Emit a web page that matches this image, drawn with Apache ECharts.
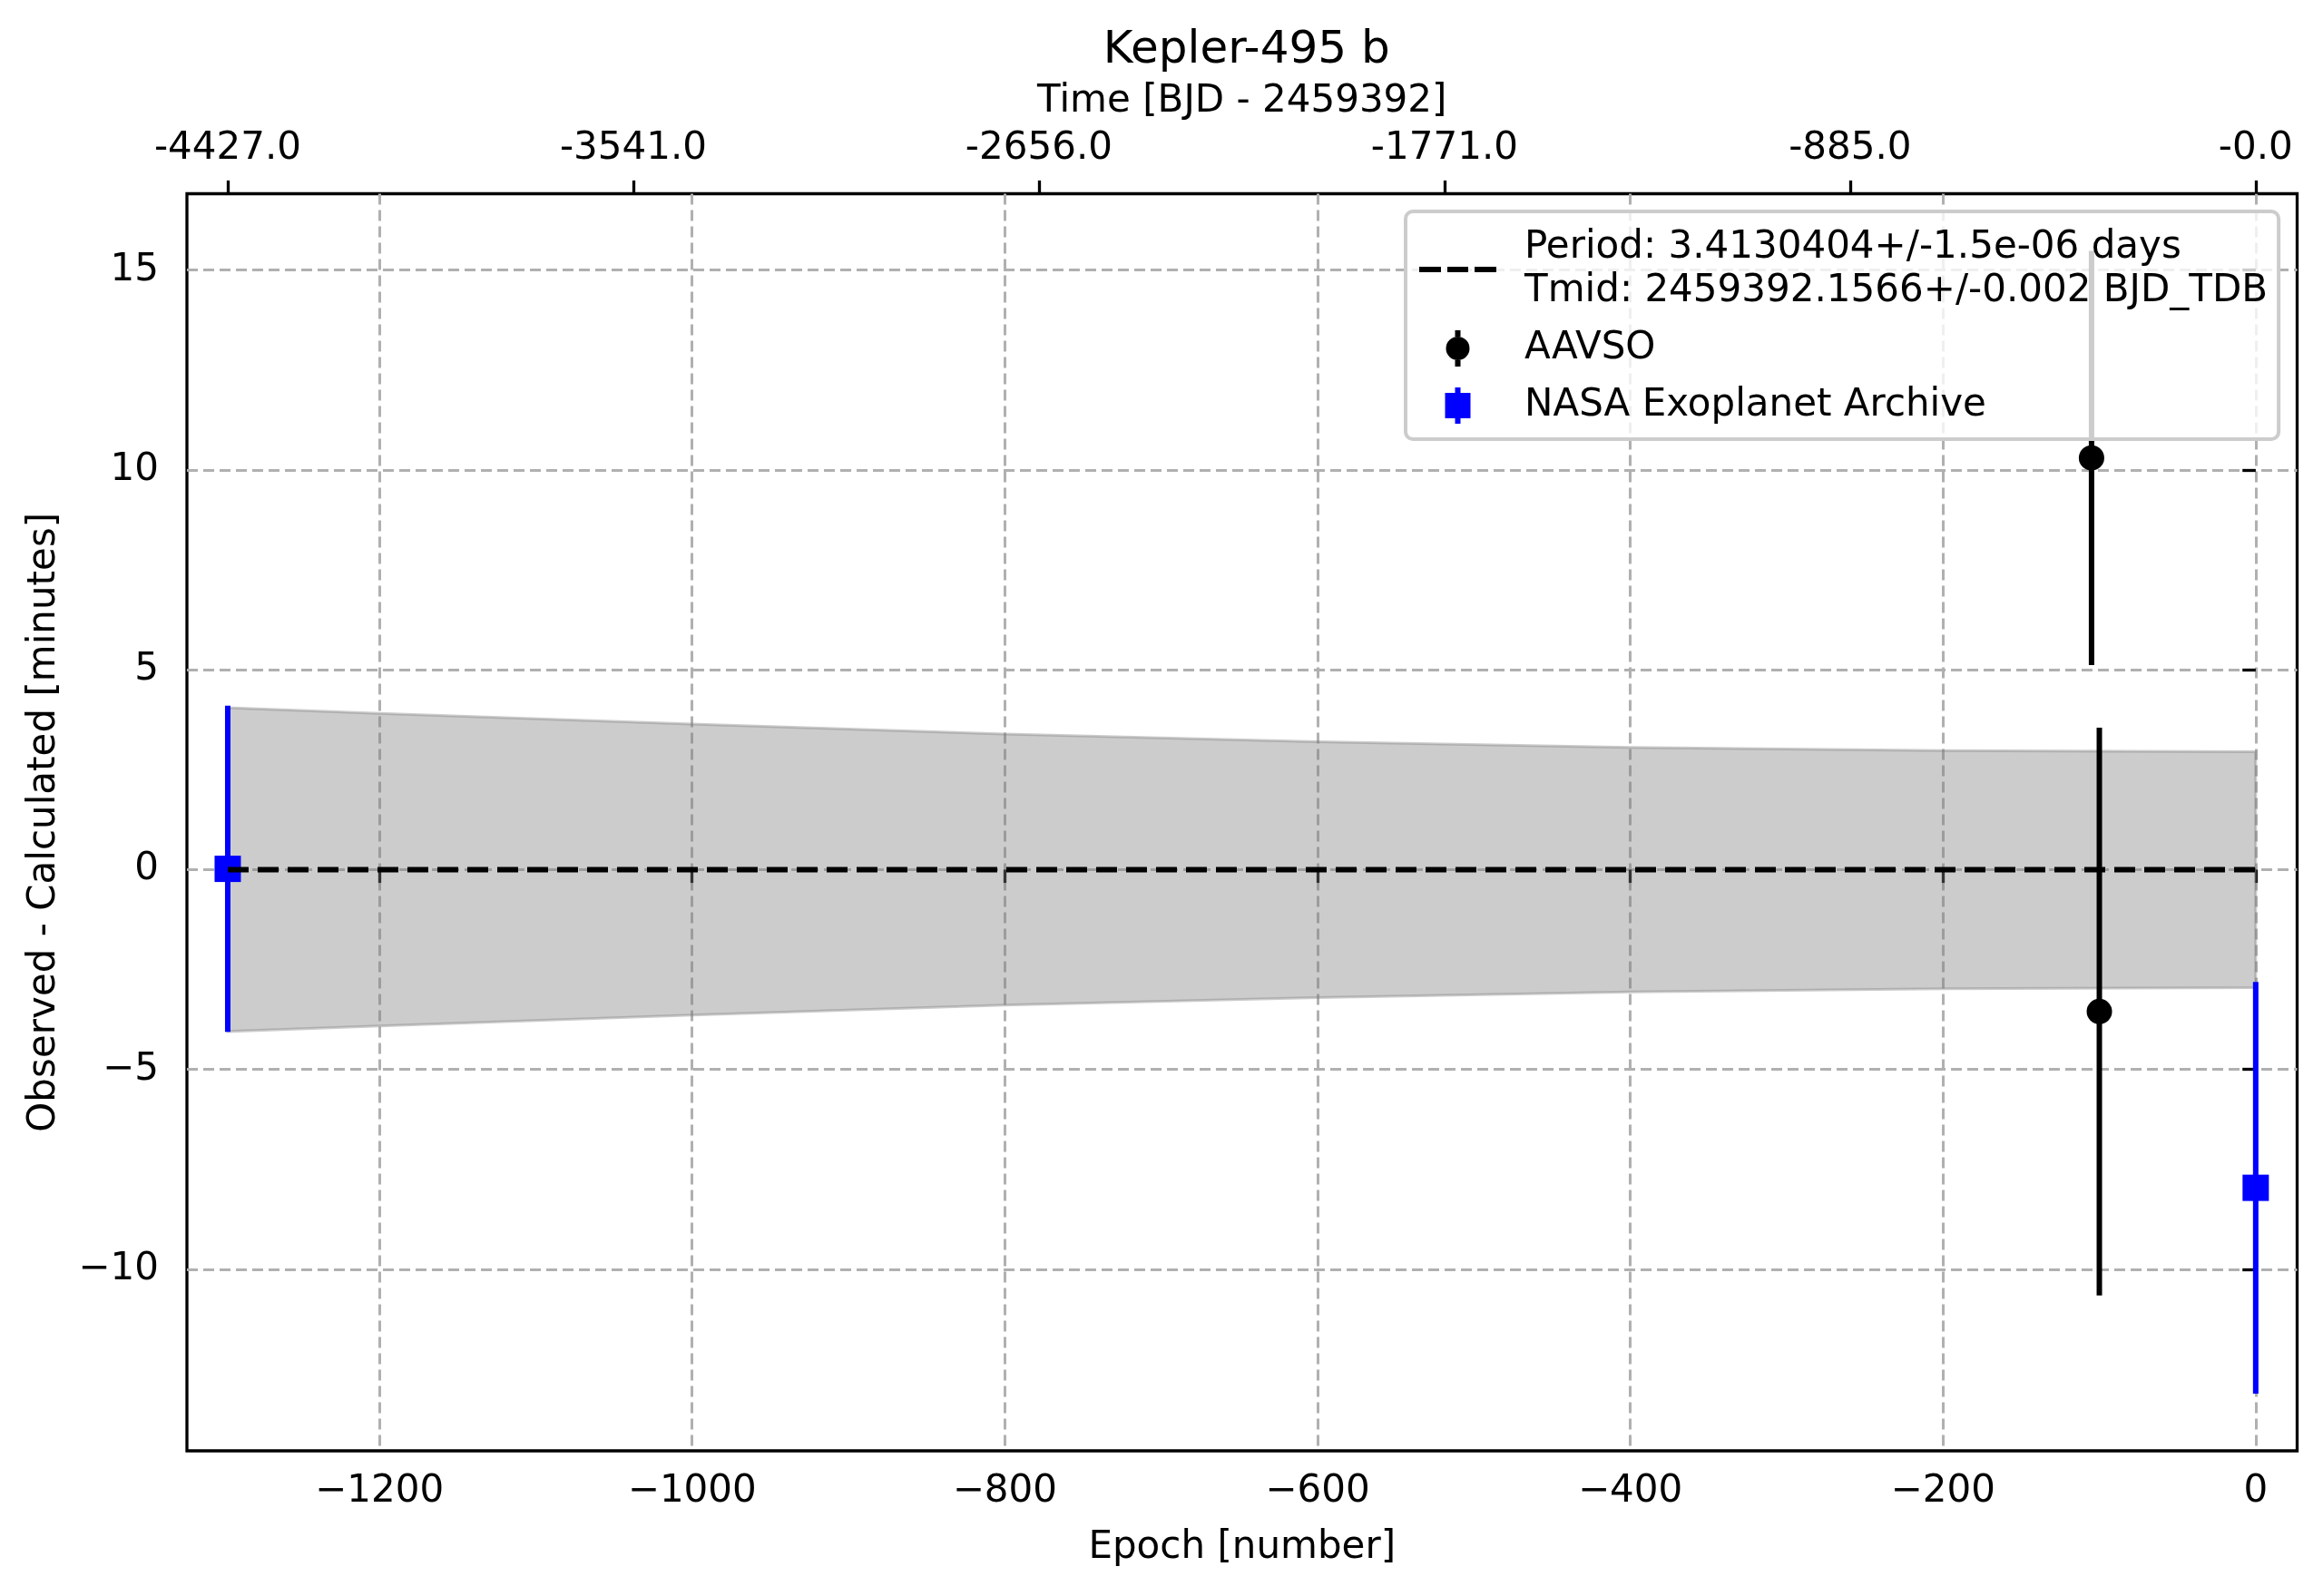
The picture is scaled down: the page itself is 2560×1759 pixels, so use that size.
<!DOCTYPE html>
<html>
<head>
<meta charset="utf-8">
<title>Kepler-495 b</title>
<script src="https://cdn.jsdelivr.net/npm/echarts@6/dist/echarts.min.js"></script>
<style>
  html, body { margin: 0; padding: 0; background: #fff; }
  #chart { width: 2560px; height: 1759px; }
</style>
</head>
<body>
<div id="chart"></div>
<script>
// data
const aavsoEpoch = [-105, -100];
const aavsoOC = [10.30, -3.55];
const aavsoErr = [5.18, 7.10];

const nasaEpoch = [-1297, 0];
const nasaOC = [0.02, -7.96];
const nasaErr = [4.08, 5.15];

// linear ephemeris (O-C = 0) and its uncertainty band
const fitEpoch = [-1297, 0];
const fitOC = [0, 0];
const bandEpoch = [-1297, -1200, -1000, -800, -600, -400, -200, 0];
const bandUpper = [4.05, 3.91, 3.64, 3.39, 3.20, 3.06, 2.98, 2.95];
const bandLower = [-4.05, -3.91, -3.64, -3.39, -3.20, -3.06, -2.98, -2.95];

// ticks
const epochTicks = [-1200, -1000, -800, -600, -400, -200, 0];
const ocTicks = [-10, -5, 0, 5, 10, 15];
const timeTickEpochs = [-1297, -1037.6, -778.2, -518.8, -259.4, 0];
const timeTickLabels = ['-4427.0', '-3541.0', '-2656.0', '-1771.0', '-885.0', '-0.0'];

const fitName = 'Period: 3.4130404+/-1.5e-06 days\nTmid: 2459392.1566+/-0.002 BJD_TDB';

const FONT = 'DejaVu Sans';

function minus(v) {
    return v < 0 ? '\u2212' + Math.abs(v) : String(v);
}

function pairs(xs, ys, es) {
    return xs.map(function (x, i) {
        return es ? [x, ys[i], es[i]] : [x, ys[i]];
    });
}

function errorBars(color) {
    return function (params, api) {
        const x = api.value(0), y = api.value(1), e = api.value(2);
        const a = api.coord([x, y + e]);
        const b = api.coord([x, y - e]);
        return {
            type: 'line',
            shape: { x1: a[0], y1: a[1], x2: b[0], y2: b[1] },
            style: { stroke: color, lineWidth: 6 }
        };
    };
}

const chart = echarts.init(document.getElementById('chart'), null, { renderer: 'canvas' });

const gridLine = { show: true, lineStyle: { color: '#b0b0b0', width: 3, type: [12, 6] } };
const tickStyle = { show: true, length: 14.6, lineStyle: { color: '#000', width: 3.3 } };

const option = {
    animation: false,
    backgroundColor: '#fff',
    textStyle: { fontFamily: FONT },
    title: {
        text: 'Kepler-495 b',
        left: 1368.75,
        top: 26,
        textAlign: 'center',
        textStyle: { fontFamily: FONT, fontSize: 50, fontWeight: 'normal', color: '#000' }
    },
    grid: {
        left: 206, right: 28.5, top: 213.5, bottom: 160,
        show: true, borderColor: '#000', borderWidth: 3.3, backgroundColor: 'transparent'
    },
    legend: {
        orient: 'vertical',
        left: 1549,
        top: 233,
        padding: [16, 12, 13, 15],
        itemWidth: 85,
        itemHeight: 40,
        itemGap: 15,
        backgroundColor: 'rgba(255,255,255,0.8)',
        borderColor: '#cccccc',
        borderWidth: 4,
        borderRadius: 8,
        selectedMode: false,
        textStyle: { fontFamily: FONT, fontSize: 42, lineHeight: 48, color: '#000', padding: [0, 0, 0, 26] },
        data: [
            {
                name: fitName,
                icon: 'path://M0,0L24,0L24,6L0,6Z M31,0L54,0L54,6L31,6Z M61,0L85,0L85,6L61,6Z',
                itemStyle: { color: '#000', opacity: 1 }
            },
            {
                name: 'AAVSO',
                icon: 'path://M11,0L17,0L17,7L11,7Z M1,20A13,13 0 1,1 27,20A13,13 0 1,1 1,20Z M11,33L17,33L17,40L11,40Z',
                itemStyle: { color: '#000', opacity: 1 }
            },
            {
                name: 'NASA Exoplanet Archive',
                icon: 'path://M11,0L17,0L17,6L11,6Z M0,6L28,6L28,34L0,34Z M11,34L17,34L17,40L11,40Z',
                itemStyle: { color: '#0000ff', opacity: 1 }
            }
        ]
    },
    xAxis: [
        {
            type: 'value',
            position: 'bottom',
            min: -1323.1,
            max: 26.5,
            name: 'Epoch [number]',
            nameLocation: 'middle',
            nameGap: 86,
            nameTextStyle: { fontFamily: FONT, fontSize: 42, color: '#000' },
            axisLine: { show: false },
            axisTick: Object.assign({ customValues: epochTicks }, tickStyle),
            axisLabel: {
                customValues: epochTicks,
                margin: 24,
                fontFamily: FONT, fontSize: 42, color: '#000',
                formatter: minus
            },
            splitLine: gridLine
        },
        {
            type: 'value',
            position: 'top',
            min: -1323.1,
            max: 26.5,
            name: 'Time [BJD - 2459392]',
            nameLocation: 'middle',
            nameGap: 80,
            nameTextStyle: { fontFamily: FONT, fontSize: 42, color: '#000' },
            axisLine: { show: false },
            axisTick: Object.assign({ customValues: timeTickEpochs }, tickStyle),
            axisLabel: {
                customValues: timeTickEpochs,
                margin: 28,
                fontFamily: FONT, fontSize: 42, color: '#000',
                formatter: function (v) {
                    for (let i = 0; i < timeTickEpochs.length; i++) {
                        if (Math.abs(timeTickEpochs[i] - v) < 1e-6) return timeTickLabels[i];
                    }
                    return '';
                }
            },
            splitLine: { show: false }
        }
    ],
    yAxis: {
        type: 'value',
        min: -14.54,
        max: 16.91,
        name: 'Observed - Calculated [minutes]',
        nameLocation: 'middle',
        nameGap: 136,
        nameTextStyle: { fontFamily: FONT, fontSize: 42, color: '#000' },
        axisLine: { show: false },
        axisTick: Object.assign({ customValues: ocTicks }, tickStyle),
        axisLabel: {
            customValues: ocTicks,
            margin: 31,
            fontFamily: FONT, fontSize: 42, color: '#000',
            formatter: minus
        },
        splitLine: gridLine
    },
    series: [
        {
            // uncertainty band of the ephemeris
            name: 'band',
            type: 'custom',
            xAxisIndex: 0,
            z: 1,
            silent: true,
            data: [[0, 0]],
            renderItem: function (params, api) {
                const pts = [];
                for (let i = 0; i < bandEpoch.length; i++) pts.push(api.coord([bandEpoch[i], bandUpper[i]]));
                for (let i = bandEpoch.length - 1; i >= 0; i--) pts.push(api.coord([bandEpoch[i], bandLower[i]]));
                return {
                    type: 'polygon',
                    shape: { points: pts },
                    style: { fill: 'rgba(128,128,128,0.4)', stroke: 'rgba(128,128,128,0.4)', lineWidth: 3 }
                };
            }
        },
        {
            name: 'NASA Exoplanet Archive',
            type: 'custom',
            xAxisIndex: 0,
            z: 2,
            itemStyle: { color: '#0000ff' },
            data: pairs(nasaEpoch, nasaOC, nasaErr),
            renderItem: errorBars('#0000ff')
        },
        {
            name: 'NASA Exoplanet Archive',
            type: 'scatter',
            xAxisIndex: 0,
            z: 2,
            symbol: 'rect',
            symbolSize: 29,
            itemStyle: { color: '#0000ff', opacity: 1 },
            data: pairs(nasaEpoch, nasaOC)
        },
        {
            name: 'AAVSO',
            type: 'custom',
            xAxisIndex: 0,
            z: 2,
            itemStyle: { color: '#000000' },
            data: pairs(aavsoEpoch, aavsoOC, aavsoErr),
            renderItem: errorBars('#000000')
        },
        {
            name: 'AAVSO',
            type: 'scatter',
            xAxisIndex: 0,
            z: 2,
            symbol: 'circle',
            symbolSize: 28,
            itemStyle: { color: '#000000', opacity: 1 },
            data: pairs(aavsoEpoch, aavsoOC)
        },
        {
            name: fitName,
            type: 'line',
            xAxisIndex: 0,
            z: 3,
            symbol: 'none',
            showSymbol: false,
            lineStyle: { color: '#000', width: 6, type: [23, 10] },
            itemStyle: { color: '#000' },
            data: pairs(fitEpoch, fitOC)
        }
    ]
};

chart.setOption(option);
</script>
</body>
</html>
